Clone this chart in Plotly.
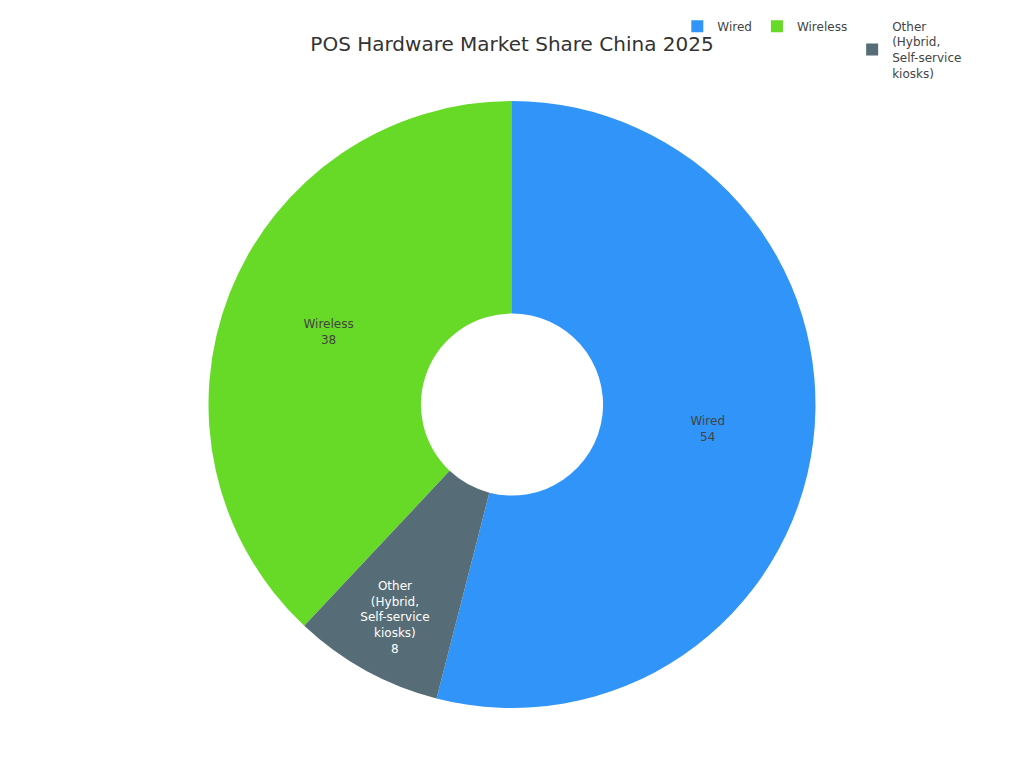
import plotly.graph_objects as go

labels = ["Wired", "Wireless", "Other<br>(Hybrid,<br>Self-service<br>kiosks)"]
values = [54, 38, 8]
colors = ["#3094F8", "#66DA27", "#566D77"]

fig = go.Figure(
    go.Pie(
        labels=labels,
        values=values,
        hole=0.3,
        marker=dict(colors=colors),
        textinfo="label+value",
        textposition="inside",
        insidetextorientation="horizontal",
        textfont=dict(size=12),
    )
)

fig.update_layout(
    width=1024,
    height=768,
    font=dict(family="DejaVu Sans", size=12, color="#444"),
    title=dict(
        text="POS Hardware Market Share China 2025",
        x=0.5,
        xanchor="center",
        y=0.943,
        yanchor="middle",
        yref="container",
        font=dict(size=20, color="#333"),
    ),
    margin=dict(t=98, b=60, l=80, r=80),
    legend=dict(
        orientation="h",
        x=1.027,
        xanchor="right",
        y=1.147,
        yanchor="top",
        font=dict(size=12),
    ),
    paper_bgcolor="white",
    plot_bgcolor="white",
)

fig.write_html(
    "out.html",
    config={"displayModeBar": False},
    post_script="document.body.style.margin='0';document.body.style.padding='0';",
)
